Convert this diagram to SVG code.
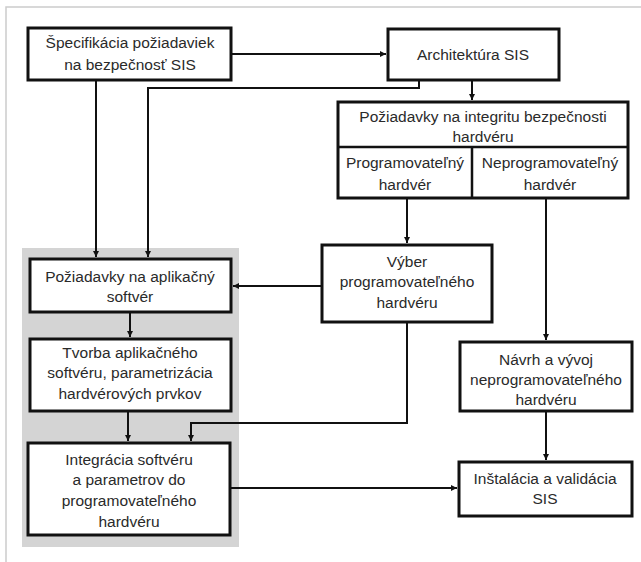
<svg xmlns="http://www.w3.org/2000/svg" width="641" height="562" viewBox="0 0 641 562">
  <style>
    .box { fill: #ffffff; stroke: #111111; stroke-width: 3; }
    .div { fill: none; stroke: #111111; stroke-width: 2.5; }
    .lbl { font-family: "Liberation Sans", Arial, sans-serif; font-size: 15.5px; fill: #2a2a2a; text-anchor: middle; }
    .edge { fill: none; stroke: #111111; stroke-width: 2; }
  </style>
  <defs>
    <marker id="arr" viewBox="0 0 10 10" refX="10" refY="5" markerWidth="3.2" markerHeight="3.2" orient="auto" markerUnits="strokeWidth">
      <path d="M0,0 L10,5 L0,10 Z" fill="#111111"/>
    </marker>
  </defs>

  <!-- page frame -->
  <rect x="0" y="0" width="641" height="562" fill="#ffffff"/>
  <path d="M6,562 V7 H641" fill="none" stroke="#cccccc" stroke-width="1.5"/>

  <!-- shaded software panel -->
  <rect x="22" y="248" width="217" height="299" fill="#d4d4d4"/>

  <!-- connectors -->
  <g id="connectors">
    <path class="edge" d="M231,54 H386" marker-end="url(#arr)"/>
    <path class="edge" d="M96,80 V257" marker-end="url(#arr)"/>
    <path class="edge" d="M419,80 V88 H148 V257" marker-end="url(#arr)"/>
    <path class="edge" d="M472,80 V100" marker-end="url(#arr)"/>
    <path class="edge" d="M407,198 V243" marker-end="url(#arr)"/>
    <path class="edge" d="M546,198 V340" marker-end="url(#arr)"/>
    <path class="edge" d="M322,286 H233" marker-end="url(#arr)"/>
    <path class="edge" d="M130,312 V337" marker-end="url(#arr)"/>
    <path class="edge" d="M128,411 V441" marker-end="url(#arr)"/>
    <path class="edge" d="M407,322 V423 H191 V441" marker-end="url(#arr)"/>
    <path class="edge" d="M546,411 V460" marker-end="url(#arr)"/>
    <path class="edge" d="M230,488 H457" marker-end="url(#arr)"/>
  </g>

  <g id="spec">
    <rect class="box" x="28" y="28" width="203" height="52"/>
    <text class="lbl" x="130" y="48">Špecifikácia požiadaviek</text>
    <text class="lbl" x="130" y="70">na bezpečnosť SIS</text>
  </g>

  <g id="arch">
    <rect class="box" x="388" y="29" width="171" height="51"/>
    <text class="lbl" x="473" y="60">Architektúra SIS</text>
  </g>

  <g id="integrity">
    <rect class="box" x="338" y="102" width="290" height="96"/>
    <path class="div" d="M338,147 H628 M472,147 V198"/>
    <text class="lbl" x="483" y="122">Požiadavky na integritu bezpečnosti</text>
    <text class="lbl" x="483" y="142">hardvéru</text>
    <text class="lbl" x="405" y="168">Programovateľný</text>
    <text class="lbl" x="405" y="190">hardvér</text>
    <text class="lbl" x="550" y="168">Neprogramovateľný</text>
    <text class="lbl" x="550" y="190">hardvér</text>
  </g>

  <g id="vyber">
    <rect class="box" x="322" y="245" width="170" height="77"/>
    <text class="lbl" x="407" y="267">Výber</text>
    <text class="lbl" x="407" y="287">programovateľného</text>
    <text class="lbl" x="407" y="308">hardvéru</text>
  </g>

  <g id="navrh">
    <rect class="box" x="460" y="342" width="172" height="69"/>
    <text class="lbl" x="546" y="365">Návrh a vývoj</text>
    <text class="lbl" x="546" y="385">neprogramovateľného</text>
    <text class="lbl" x="546" y="405">hardvéru</text>
  </g>

  <g id="instalacia">
    <rect class="box" x="459" y="462" width="173" height="54"/>
    <text class="lbl" x="545" y="484">Inštalácia a validácia</text>
    <text class="lbl" x="545" y="504">SIS</text>
  </g>

  <g id="app-req">
    <rect class="box" x="30" y="259" width="201" height="53"/>
    <text class="lbl" x="130" y="282">Požiadavky na aplikačný</text>
    <text class="lbl" x="130" y="302">softvér</text>
  </g>

  <g id="tvorba">
    <rect class="box" x="30" y="339" width="201" height="72"/>
    <text class="lbl" x="130" y="358">Tvorba aplikačného</text>
    <text class="lbl" x="130" y="378">softvéru, parametrizácia</text>
    <text class="lbl" x="130" y="399">hardvérových prvkov</text>
  </g>

  <g id="integracia">
    <rect class="box" x="28" y="443" width="202" height="92"/>
    <text class="lbl" x="129" y="465">Integrácia softvéru</text>
    <text class="lbl" x="129" y="485">a parametrov do</text>
    <text class="lbl" x="129" y="506">programovateľného</text>
    <text class="lbl" x="129" y="527">hardvéru</text>
  </g>
</svg>
